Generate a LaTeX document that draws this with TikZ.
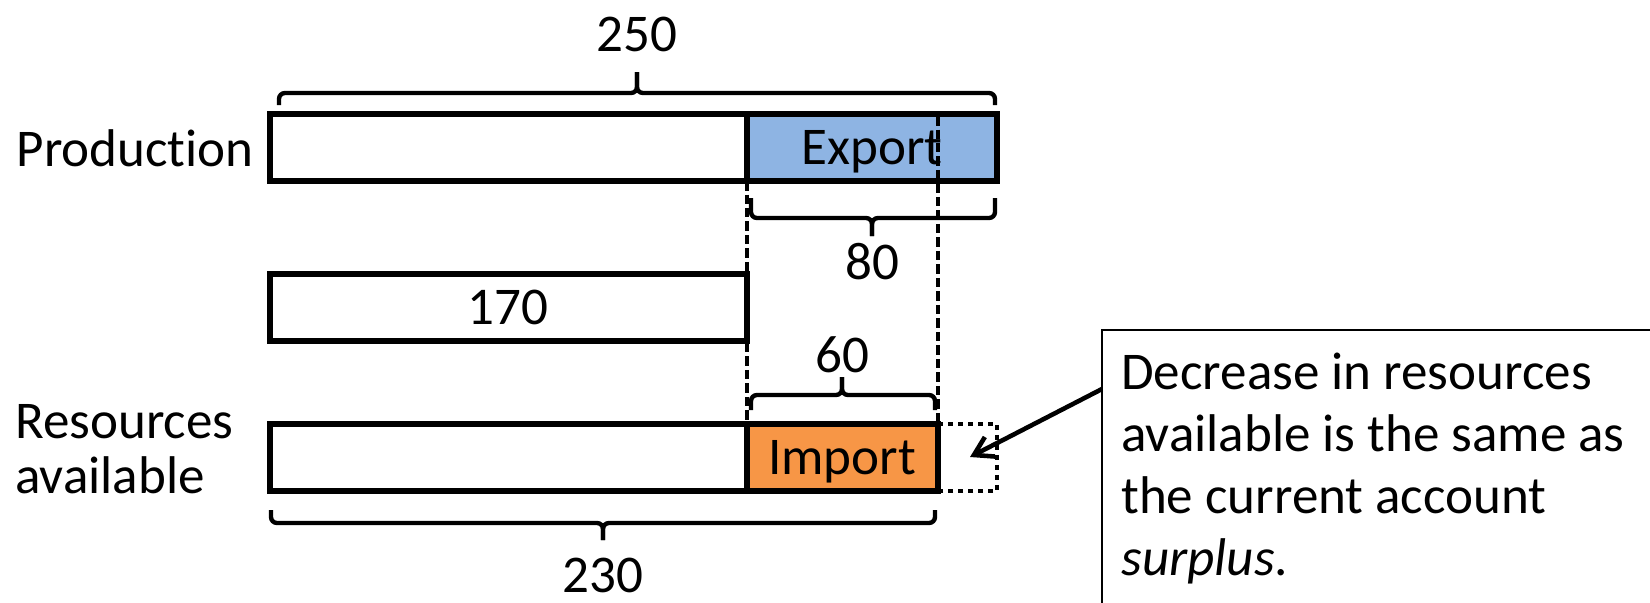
\documentclass[tikz,border=0pt]{standalone}
\usepackage{fontspec}
\setmainfont{Carlito}[Ligatures=NoCommon]
\usetikzlibrary{arrows.meta}

\definecolor{exportblue}{HTML}{8EB4E3}
\definecolor{importorange}{HTML}{F79646}

\tikzset{
  bar/.style={draw=black, line width=3.1pt},
  brace/.style={draw=black, line width=2.5pt, rounded corners=0.12cm},
  guide/.style={draw=black, line width=1.8pt, dash pattern=on 0.19cm off 0.08cm},
  spare/.style={draw=black, line width=2.4pt, dash pattern=on 0.1cm off 0.1cm},
  callout/.style={draw=black, line width=0.85pt},
  pointer/.style={draw=black, line width=2.6pt, -{Straight Barb[length=0.36cm,width=0.44cm]}},
  lbl/.style={inner sep=0pt, font=\fontsize{30.2}{31.3}\selectfont},
  notetext/.style={inner sep=0pt, align=left, font=\fontsize{30.2}{35.3}\selectfont}
}

\begin{document}
\begin{tikzpicture}[x=0.02cm, y=-0.02cm]
    \useasboundingbox (0,0) rectangle (1650,602);
    % fills
    \fill[exportblue] (747,114) rectangle (997,181);
    \fill[importorange] (747,424) rectangle (938,491);
    % guide lines
    \draw[guide] (747,181) -- (747,424);
    \draw[guide] (938,116) -- (938,424);
    % bars
    \draw[bar] (270,114) rectangle (997,181);
    \draw[bar] (747,114) -- (747,181);
    \draw[bar] (270,274) rectangle (747,341);
    \draw[bar] (270,424) rectangle (938,491);
    \draw[bar] (747,424) -- (747,491);
    \draw[spare] (938,424) -- (997,424) -- (997,491) -- (938,491);
    % braces
    \draw[brace] (279,105) |- (637,93) -- (637,72);
    \draw[brace] (637,72) -- (637,93) -| (995,105);
    \draw[brace] (751,198) |- (872,218) -- (872,236);
    \draw[brace] (872,236) -- (872,218) -| (995,198);
    \draw[brace] (751,410) |- (842,395) -- (842,377);
    \draw[brace] (842,377) -- (842,395) -| (935,410);
    \draw[brace] (271,510) |- (603,523) -- (603,540);
    \draw[brace] (603,540) -- (603,523) -| (935,510);
    % labels
    \node[lbl, anchor=east] (production) at (254,148) {Production};
    \node[lbl, anchor=west, align=left] (resources) at (15,449) {Resources\\available};
    \node[lbl, anchor=base] (export) at (872,164) {Export};
    \node[lbl, anchor=base] (import) at (842,474) {Import};
    \node[lbl] (domestic) at (508,307) {170};
    \node[lbl] (total) at (637,34) {250};
    \node[lbl] (exportval) at (872,262) {80};
    \node[lbl] (importval) at (842,355) {60};
    \node[lbl] (available) at (603,575) {230};
    % callout
    \draw[callout] (1102,612) -- (1102,330) -- (1660,330);
    \node[notetext, anchor=north west] (note) at (1121,353)
        {Decrease in resources\\available is the same as\\the current account\\\textit{surplus}.};
    \coordinate (notestart) at (1102,389);
    \coordinate (gap) at (970,457);
    \draw[pointer] (notestart) -- (gap);
\end{tikzpicture}
\end{document}
